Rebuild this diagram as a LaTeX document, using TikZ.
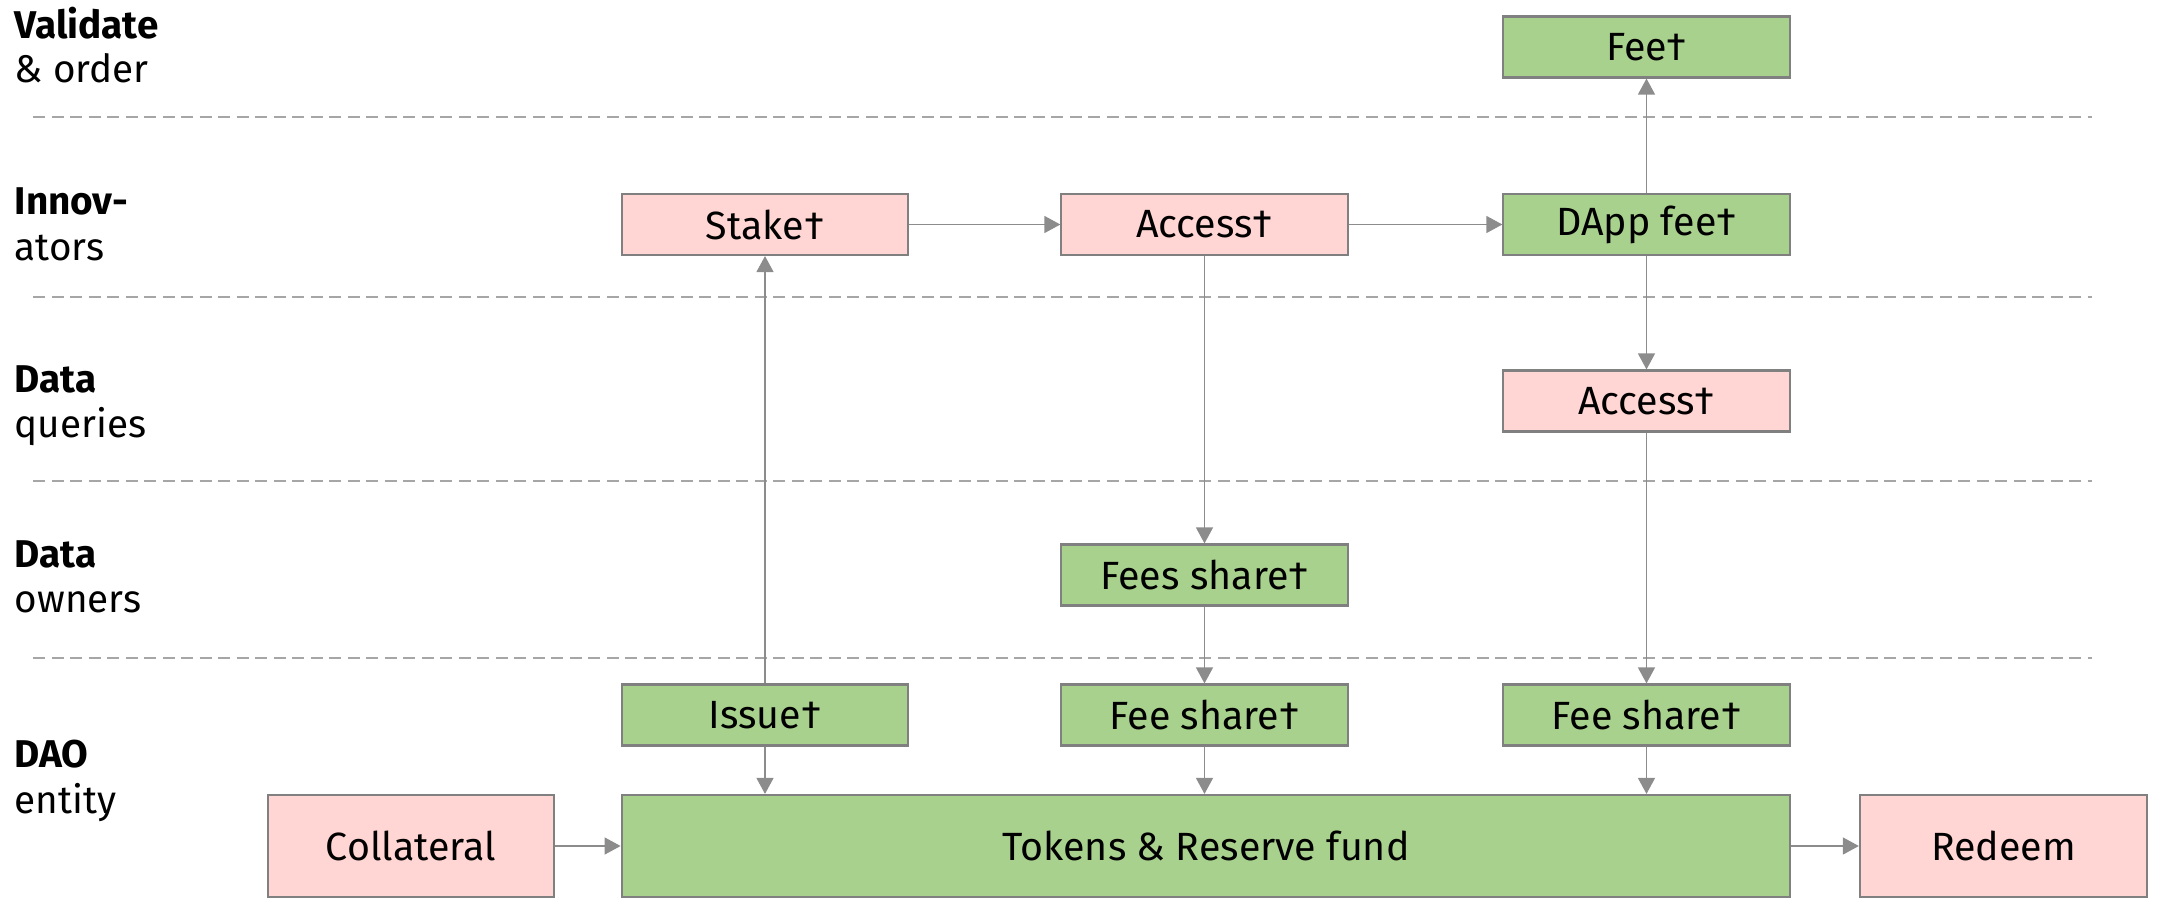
\documentclass[tikz,border=0pt]{standalone}
\usepackage{fontspec}
\setmainfont{Fira Sans}
\usetikzlibrary{arrows.meta}
\definecolor{pinkfill}{HTML}{FFD6D3}
\definecolor{greenfill}{HTML}{A9D18E}
\definecolor{edgegray}{HTML}{808080}
\definecolor{flowgray}{HTML}{8C8C8C}
\definecolor{dashgray}{HTML}{A6A6A6}

\begin{document}
\begin{tikzpicture}[x=0.01cm,y=-0.01cm,
  box/.style={draw=edgegray, line width=0.6pt, inner sep=0pt,
    font=\fontsize{11.2}{13}\selectfont, text=black},
  pinkbox/.style={box, fill=pinkfill},
  greenbox/.style={box, fill=greenfill},
  smallbox/.style={minimum width=2.86cm, minimum height=0.61cm},
  widebox/.style={minimum height=1.02cm},
  flow/.style={draw=flowgray, line width=0.4pt, -{Triangle[length=0.16cm,width=0.17cm]}},
  lane/.style={draw=dashgray, line width=0.55pt, dash pattern=on 0.12cm off 0.065cm},
  lanehead/.style={anchor=base west, inner sep=0pt, font=\fontsize{11}{13}\selectfont\bfseries},
  lanesub/.style={anchor=base west, inner sep=0pt, font=\fontsize{11}{13}\selectfont}]

\useasboundingbox (0,0) rectangle (2162,900);

% lane separators
\draw[lane] (33,117) -- (2092,117);
\draw[lane] (33,297) -- (2092,297);
\draw[lane] (33,481) -- (2092,481);
\draw[lane] (33,658) -- (2092,658);

% lane titles
\node[lanehead] (t1a) at (14,38) {Validate};
\node[lanesub]  (t1b) at (14,83) {\& order};
\node[lanehead] (t2a) at (14,215) {Innov-};
\node[lanesub]  (t2b) at (14,260) {ators};
\node[lanehead] (t3a) at (14,392) {Data};
\node[lanesub]  (t3b) at (14,437) {queries};
\node[lanehead] (t4a) at (14,567) {Data};
\node[lanesub]  (t4b) at (14,612) {owners};
\node[lanehead] (t5a) at (14,767) {DAO};
\node[lanesub]  (t5b) at (14,813) {entity};

% boxes
\node[greenbox, smallbox] (fee)   at (1646.5,47)  {Fee†};
\node[pinkbox,  smallbox] (stake) at (765,224.5)  {Stake†};
\node[pinkbox,  smallbox] (acc1)  at (1204.5,224.5) {Access†};
\node[greenbox, smallbox] (dapp)  at (1646.5,224.5) {DApp fee†};
\node[pinkbox,  smallbox] (acc2)  at (1646.5,401) {Access†};
\node[greenbox, smallbox] (fees)  at (1204.5,575) {Fees share†};
\node[greenbox, smallbox] (issue) at (765,715)    {Issue†};
\node[greenbox, smallbox] (fsa)   at (1204.5,715) {Fee share†};
\node[greenbox, smallbox] (fsb)   at (1646.5,715) {Fee share†};
\node[pinkbox,  widebox, minimum width=2.86cm] (coll) at (411,846) {Collateral};
\node[greenbox, widebox, minimum width=11.68cm] (fund) at (1206,846) {Tokens \& Reserve fund};
\node[pinkbox,  widebox, minimum width=2.87cm] (redeem) at (2003.5,846) {Redeem};

% flows
\draw[flow] (stake.east) -- (acc1.west);
\draw[flow] (acc1.east) -- (dapp.west);
\draw[flow] (dapp.north) -- (fee.south);
\draw[flow] (dapp.south) -- (acc2.north);
\draw[flow] (acc1.south) -- (fees.north);
\draw[flow] (fees.south) -- (fsa.north);
\draw[flow] (acc2.south) -- (fsb.north);
\draw[flow] (issue.north) -- (stake.south);
\draw[flow] (issue.south) -- (issue.south |- fund.north);
\draw[flow] (fsa.south) -- (fsa.south |- fund.north);
\draw[flow] (fsb.south) -- (fsb.south |- fund.north);
\draw[flow] (coll.east) -- (fund.west);
\draw[flow] (fund.east) -- (redeem.west);
\end{tikzpicture}
\end{document}
